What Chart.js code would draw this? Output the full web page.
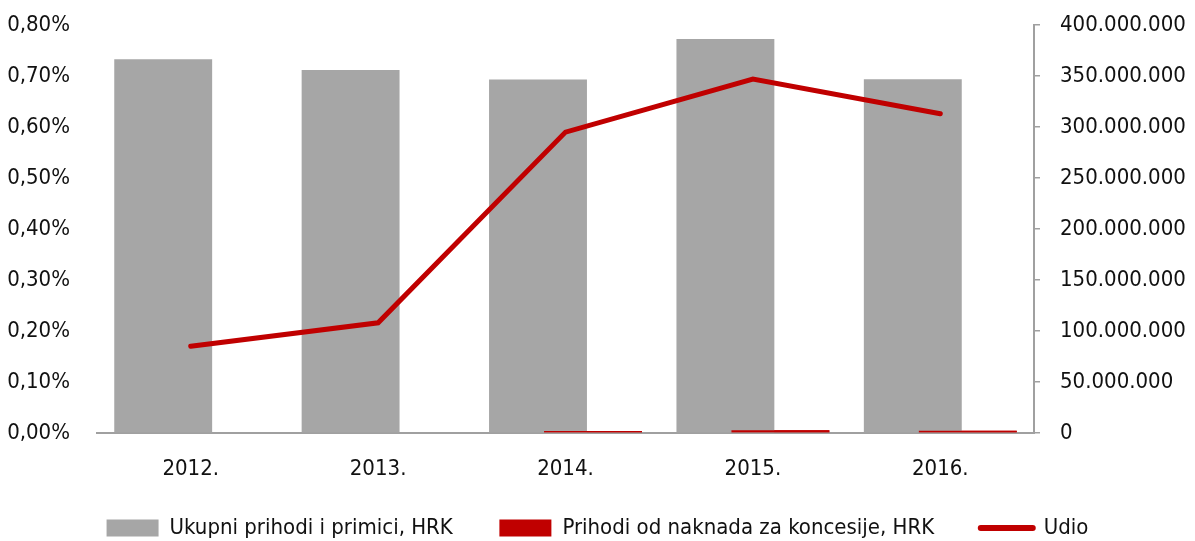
<!DOCTYPE html>
<html>
<head>
<meta charset="utf-8">
<script src="https://cdn.jsdelivr.net/npm/chart.js@4.4.1/dist/chart.umd.min.js"></script>
<style>
  html, body { margin: 0; padding: 0; background: #fff; }
  #wrap { width: 1195px; height: 541px; position: relative; }
</style>
</head>
<body>
<div id="wrap"><canvas id="chart"></canvas></div>
<script>
// podaci
const categories = ['2012.', '2013.', '2014.', '2015.', '2016.'];
const ukupniPrihodi = [366300000, 355800000, 346600000, 386200000, 346900000];
const naknadeKoncesije = [621000, 767000, 2045000, 2680000, 2173000];
const udio = [0.170, 0.216, 0.590, 0.694, 0.626];

const GREY = '#A6A6A6';
const RED = '#C00000';
const AXIS = '#A0A0A0';
const FONT = "'DejaVu Sans Condensed', 'Liberation Sans Narrow', sans-serif";
const FS = 22;

Chart.defaults.font.family = FONT;
Chart.defaults.font.size = FS;
Chart.defaults.color = '#111';

// red bars sit in the right slot but are painted over the grey ones
const redOnTop = {
  id: 'redOnTop',
  afterDatasetDraw(chart, args) {
    if (args.index !== 0) return;
    const ctx = chart.ctx;
    const area = chart.chartArea;
    ctx.save();
    ctx.beginPath();
    ctx.rect(area.left, area.top, area.right - area.left, area.bottom - area.top);
    ctx.clip();
    chart.getDatasetMeta(1).data.forEach(el => el.draw(ctx));
    ctx.restore();
  }
};

function fmtThousands(v) {
  return String(Math.round(v)).replace(/\B(?=(\d{3})+(?!\d))/g, '.');
}

new Chart(document.getElementById('chart'), {
  type: 'bar',
  data: {
    labels: categories,
    datasets: [
      {
        label: 'Ukupni prihodi i primici, HRK',
        data: ukupniPrihodi,
        backgroundColor: GREY,
        yAxisID: 'y1',
        order: 1,
        categoryPercentage: 0.587,
        barPercentage: 1.78
      },
      {
        label: 'Prihodi od naknada za koncesije, HRK',
        data: naknadeKoncesije,
        backgroundColor: RED,
        yAxisID: 'y1',
        order: 1,
        categoryPercentage: 0.587,
        barPercentage: 1.78
      },
      {
        type: 'line',
        label: 'Udio',
        data: udio,
        borderColor: RED,
        backgroundColor: RED,
        borderWidth: 5,
        borderCapStyle: 'round',
        borderJoinStyle: 'miter',
        pointRadius: 0,
        tension: 0,
        yAxisID: 'y',
        order: 0
      }
    ]
  },
  options: {
    responsive: true,
    maintainAspectRatio: false,
    animation: false,
    layout: { padding: { top: 25, bottom: -8, left: 0, right: 0 } },
    plugins: {
      tooltip: { enabled: false },
      legend: {
        position: 'bottom',
        labels: {
          usePointStyle: true,
          pointStyleWidth: 52,
          boxHeight: 17,
          padding: 34,
          color: '#111',
          font: { size: FS },
          sort: (a, b) => a.datasetIndex - b.datasetIndex,
          generateLabels(chart) {
            const items = Chart.defaults.plugins.legend.labels.generateLabels(chart);
            items.forEach(it => {
              if (it.datasetIndex === 2) {
                it.pointStyle = 'line';
                it.lineWidth = 6;
                it.lineCap = 'round';
              } else {
                it.pointStyle = 'rect';
                it.text += '  '; // a bit more room before the next item
              }
            });
            return items;
          }
        }
      }
    },
    scales: {
      x: {
        grid: { display: false, drawTicks: false },
        border: { display: true, color: AXIS, width: 2 },
        ticks: { padding: 23 },
        afterFit(scale) { scale.height = 50; }
      },
      y: {
        position: 'left',
        min: 0,
        max: 0.8,
        grid: { display: false, drawTicks: false },
        border: { display: false },
        ticks: {
          stepSize: 0.1,
          padding: 27,
          callback: v => v.toFixed(2).replace('.', ',') + '%'
        },
        afterFit(scale) {
          scale.width = 97;
          scale.paddingTop = 10;
          scale.paddingBottom = 10;
        }
      },
      y1: {
        position: 'right',
        min: 0,
        max: 400000000,
        grid: { display: true, drawOnChartArea: false, drawTicks: true, tickLength: 6, color: AXIS, lineWidth: 1.5 },
        border: { display: true, color: AXIS, width: 2 },
        ticks: {
          stepSize: 50000000,
          padding: 20,
          callback: v => fmtThousands(v)
        },
        afterFit(scale) {
          scale.width = 161;
          scale.paddingTop = 10;
          scale.paddingBottom = 10;
        }
      }
    }
  },
  plugins: [redOnTop]
});
</script>
</body>
</html>
